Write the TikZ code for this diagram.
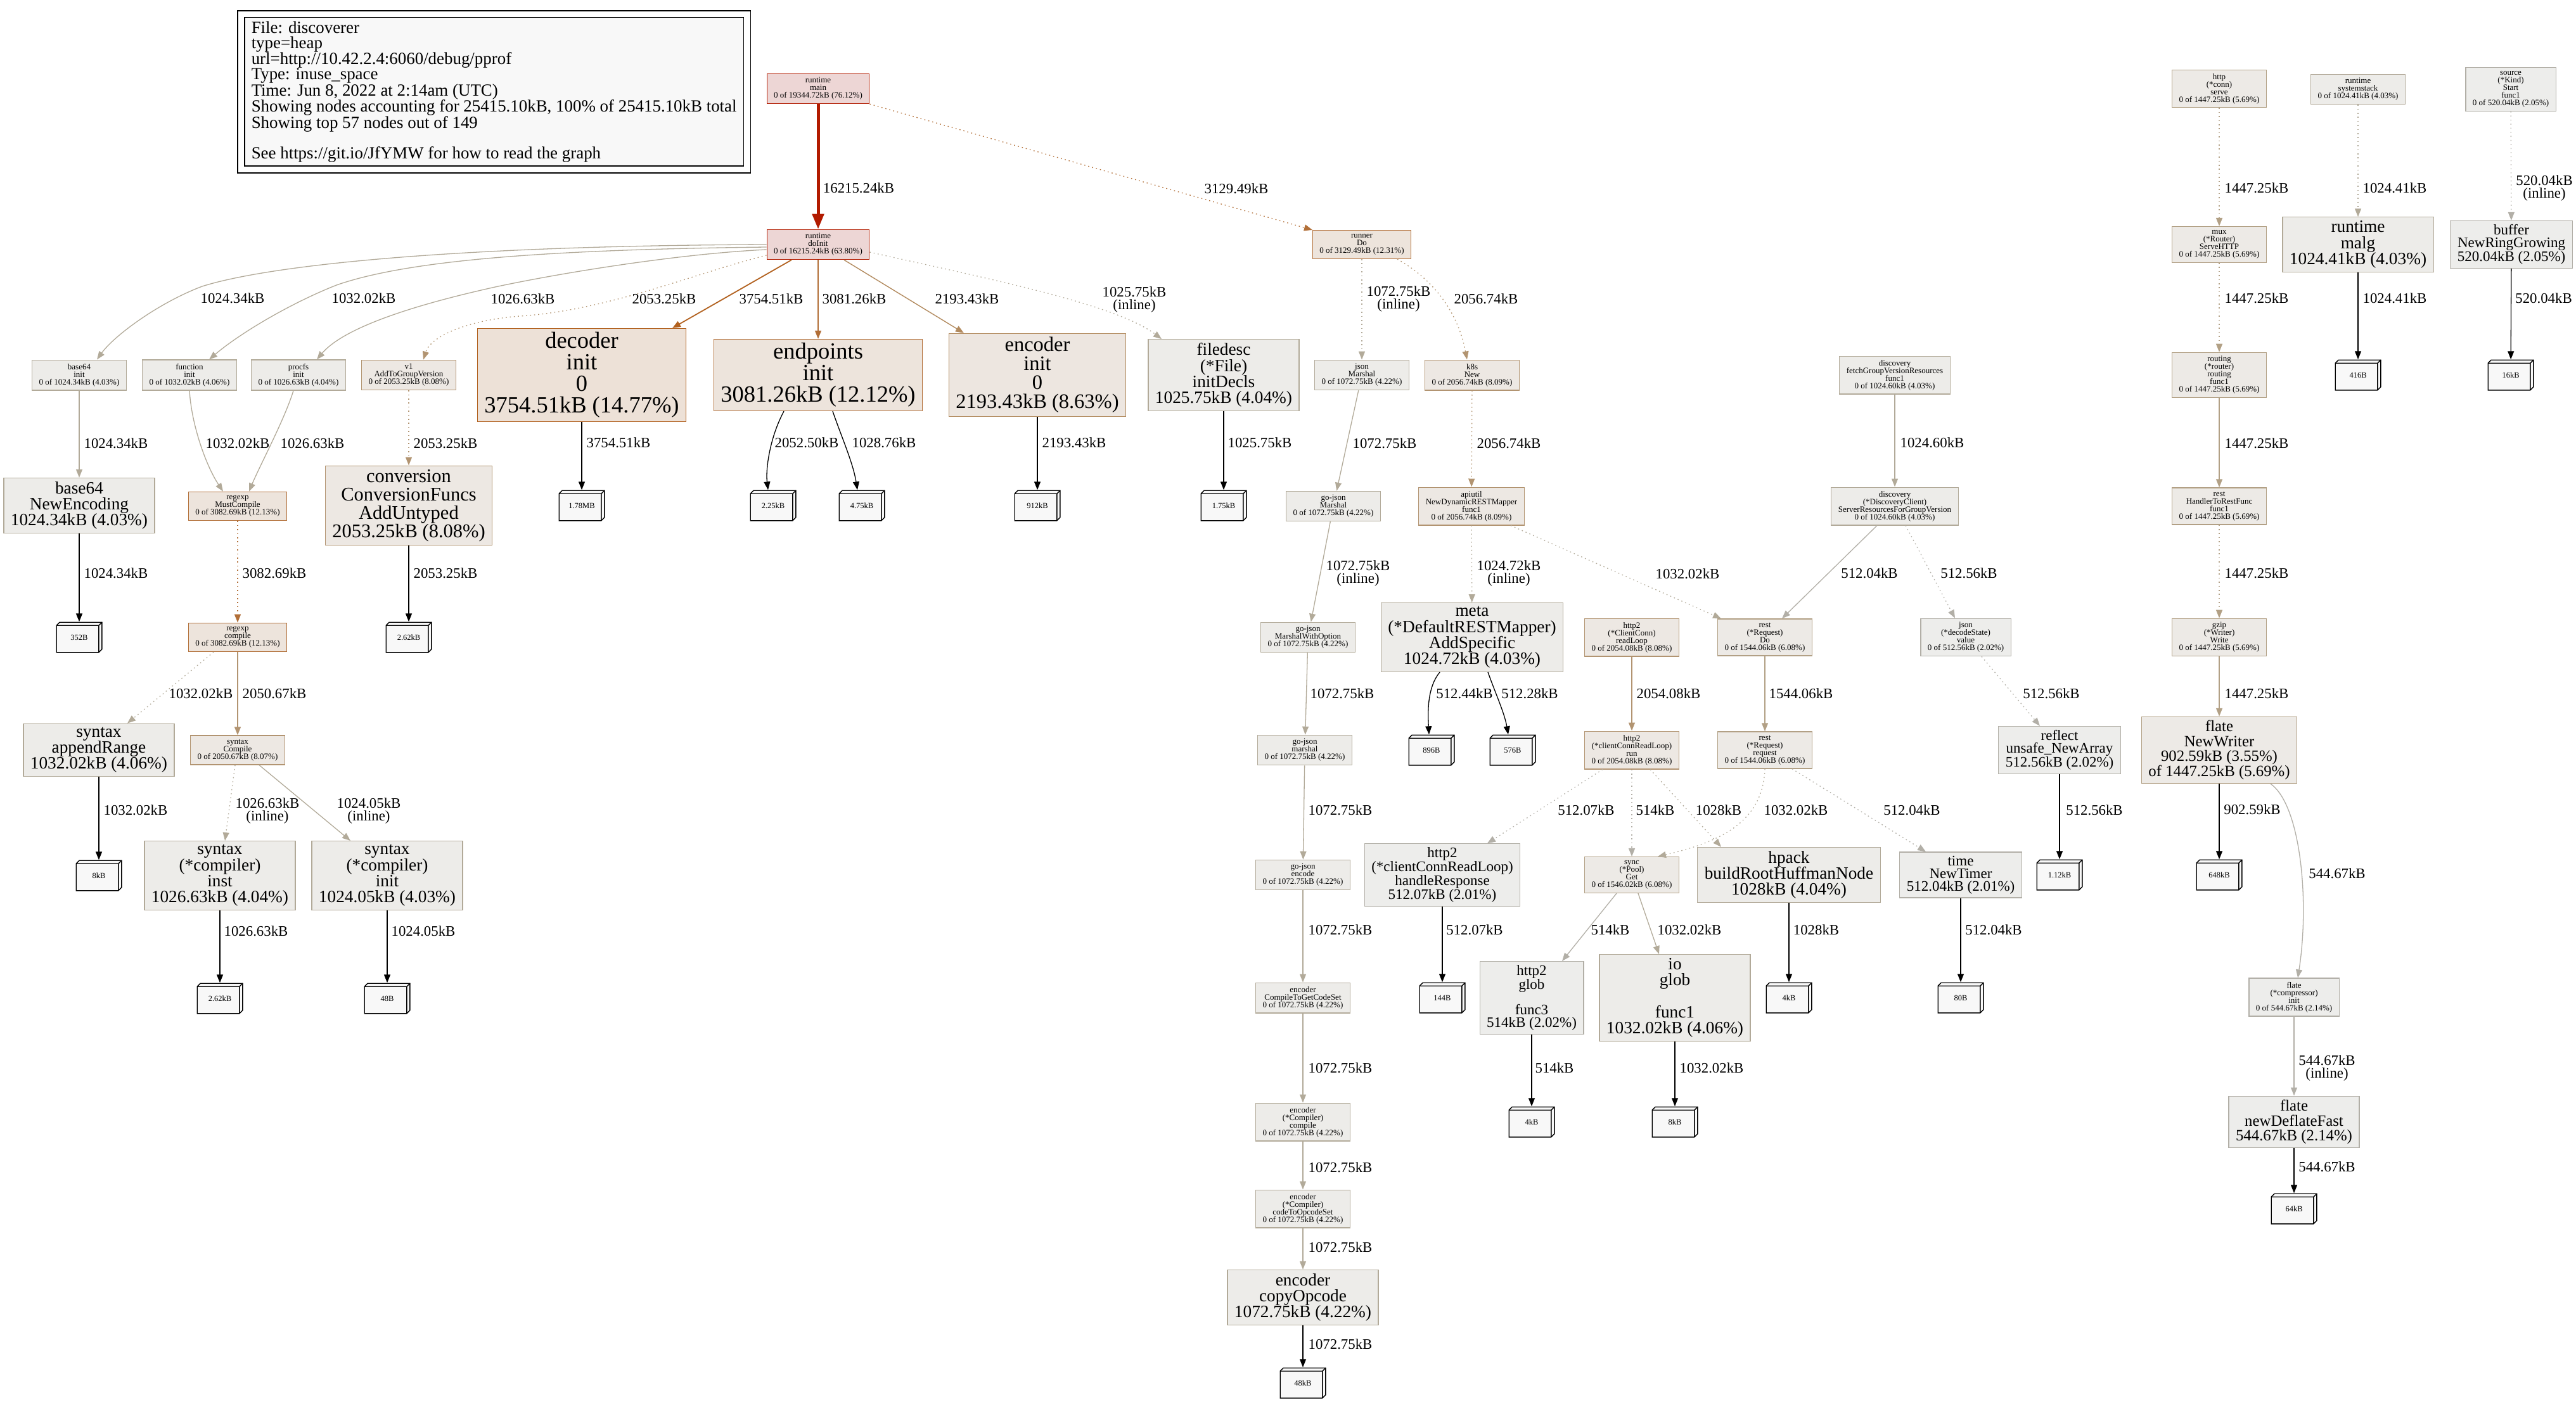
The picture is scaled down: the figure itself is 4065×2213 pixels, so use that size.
\documentclass[tikz,border=0pt]{standalone}
\usepackage{fontspec}
\setmainfont{Liberation Serif}
\usepackage{tikz}
\usetikzlibrary{arrows.meta}
\definecolor{cRedLine}{HTML}{B21B00}
\definecolor{cRedFill}{HTML}{EDD6D5}
\definecolor{cOrALine}{HTML}{B2611F}
\definecolor{cOrAFill}{HTML}{EDE1D7}
\definecolor{cOrBLine}{HTML}{B26F38}
\definecolor{cOrBFill}{HTML}{EDE4DC}
\definecolor{cOrCLine}{HTML}{B28A5E}
\definecolor{cOrCFill}{HTML}{EDE6E0}
\definecolor{cTanLine}{HTML}{B29471}
\definecolor{cTanFill}{HTML}{EDE8E3}
\definecolor{cTanBLine}{HTML}{B2A085}
\definecolor{cTanBFill}{HTML}{EDEAE6}
\definecolor{cGrayLine}{HTML}{B2AA99}
\definecolor{cGrayFill}{HTML}{EDECE9}
\definecolor{cLightLine}{HTML}{B2AFA7}
\definecolor{cLightFill}{HTML}{EDEDEB}
\definecolor{cMem}{HTML}{F8F8F8}
\tikzset{
  >={Triangle[length=13pt,width=10pt]},
  fnode/.style ={rectangle,draw,line width=1.2pt,align=center,
                 inner xsep=11pt,inner ysep=6pt,text=black},
  rnode/.style ={fnode,draw=cRedLine,fill=cRedFill},
  oanode/.style={fnode,draw=cOrALine,fill=cOrAFill},
  obnode/.style={fnode,draw=cOrBLine,fill=cOrBFill},
  ocnode/.style={fnode,draw=cOrCLine,fill=cOrCFill},
  tnode/.style ={fnode,draw=cTanLine,fill=cTanFill},
  tbnode/.style={fnode,draw=cTanBLine,fill=cTanBFill},
  gnode/.style ={fnode,draw=cGrayLine,fill=cGrayFill},
  lnode/.style ={fnode,draw=cLightLine,fill=cLightFill},
  fA/.style={font=\fontsize{36.5}{34}\selectfont},
  fB/.style={font=\fontsize{32.5}{30}\selectfont},
  fC/.style={font=\fontsize{30.5}{29}\selectfont},
  fD/.style={font=\fontsize{27.3}{25.2}\selectfont},
  fE/.style={font=\fontsize{24.8}{23.5}\selectfont},
  fF/.style={font=\fontsize{23}{20}\selectfont},
  fS/.style={font=\fontsize{13}{12}\selectfont},
  mem/.style={rectangle,minimum width=73pt,minimum height=49pt,inner sep=0pt,
              fill=white,font=\fontsize{12.5}{12}\selectfont,
    path picture={
      \draw[line width=1.4pt,fill=cMem]
        ([shift={(0.7pt,-5.7pt)}]path picture bounding box.north west)
        -- ([shift={(5.7pt,-0.7pt)}]path picture bounding box.north west)
        -- ([shift={(-0.7pt,-0.7pt)}]path picture bounding box.north east)
        -- ([shift={(-0.7pt,5.7pt)}]path picture bounding box.south east)
        -- ([shift={(-5.7pt,0.7pt)}]path picture bounding box.south east)
        -- ([shift={(0.7pt,0.7pt)}]path picture bounding box.south west) -- cycle;
      \draw[line width=1.4pt]
        ([shift={(0.7pt,-5.7pt)}]path picture bounding box.north west)
        -- ([shift={(-5.7pt,-5.7pt)}]path picture bounding box.north east)
        -- ([shift={(-5.7pt,0.7pt)}]path picture bounding box.south east)
        ([shift={(-5.7pt,-5.7pt)}]path picture bounding box.north east)
        -- ([shift={(-0.7pt,-0.7pt)}]path picture bounding box.north east);
    }},
  ed/.style  ={->,line width=1.3pt},
  edot/.style={ed,dash pattern=on 1.6pt off 4.8pt},
  emem/.style={ed,black},
  lbl/.style ={font=\fontsize{22.8}{20.5}\selectfont,align=center,inner sep=0pt,text=black},
  legendbox/.style={rectangle,draw=black,line width=1.5pt,fill=cMem,align=left,
                    inner xsep=11pt,inner ysep=6pt,font=\fontsize{26.9}{23.8}\selectfont},
}
\begin{document}
\begin{tikzpicture}[x=1pt,y=-1pt]
\path[use as bounding box,fill=white] (0,0) rectangle (4065,2213);

% legend
\node[legendbox,anchor=north west] (legend) at (385,27) {File: discoverer\\type=heap\\url=http://10.42.2.4:6060/debug/pprof\\Type: inuse\_space\\Time: Jun 8, 2022 at 2:14am (UTC)\\Showing nodes accounting for 25415.10kB, 100\% of 25415.10kB total\\Showing top 57 nodes out of 149\\\mbox{}\\See https://git.io/JfYMW for how to read the graph};
\draw[line width=1.5pt] ([shift={(-10pt,10pt)}]legend.north west) rectangle ([shift={(10pt,-10pt)}]legend.south east);

% roots
\node[rnode,fS] (main) at (1291,140) {runtime\\main\\0 of 19344.72kB (76.12\%)};
\node[tbnode,fS] (serve) at (3502,140) {http\\(*conn)\\serve\\0 of 1447.25kB (5.69\%)};
\node[gnode,fS] (sysstack) at (3721,141) {runtime\\systemstack\\0 of 1024.41kB (4.03\%)};
\node[lnode,fS] (kstart) at (3962,141) {source\\(*Kind)\\Start\\func1\\0 of 520.04kB (2.05\%)};

\node[rnode,fS] (dinit) at (1291,386) {runtime\\doInit\\0 of 16215.24kB (63.80\%)};
\node[obnode,fS] (runner) at (2149,386) {runner\\Do\\0 of 3129.49kB (12.31\%)};
\node[tbnode,fS] (mux) at (3502,386) {mux\\(*Router)\\ServeHTTP\\0 of 1447.25kB (5.69\%)};
\node[gnode,fD] (malg) at (3721,386) {runtime\\malg\\1024.41kB (4.03\%)};
\node[lnode,fF] (ring) at (3963,386) {buffer\\NewRingGrowing\\520.04kB (2.05\%)};

% init row
\node[gnode,fS] (b64init) at (125,592) {base64\\init\\0 of 1024.34kB (4.03\%)};
\node[gnode,fS] (fninit) at (299,592) {function\\init\\0 of 1032.02kB (4.06\%)};
\node[gnode,fS] (pfinit) at (471,592) {procfs\\init\\0 of 1026.63kB (4.04\%)};
\node[tnode,fS] (v1) at (645,592) {v1\\AddToGroupVersion\\0 of 2053.25kB (8.08\%)};
\node[oanode,fA] (decinit) at (918,592) {decoder\\init\\0\\3754.51kB (14.77\%)};
\node[obnode,fA] (epinit) at (1291,592) {endpoints\\init\\3081.26kB (12.12\%)};
\node[ocnode,fB] (encinit) at (1637,592) {encoder\\init\\0\\2193.43kB (8.63\%)};
\node[gnode,fD] (fdesc) at (1931,592) {filedesc\\(*File)\\initDecls\\1025.75kB (4.04\%)};
\node[gnode,fS] (jmarshal) at (2149,592) {json\\Marshal\\0 of 1072.75kB (4.22\%)};
\node[tnode,fS] (k8snew) at (2323,592) {k8s\\New\\0 of 2056.74kB (8.09\%)};
\node[gnode,fS] (fetchgvr) at (2990,592) {discovery\\fetchGroupVersionResources\\func1\\0 of 1024.60kB (4.03\%)};
\node[tbnode,fS] (routing) at (3502,592) {routing\\(*router)\\routing\\func1\\0 of 1447.25kB (5.69\%)};
\node[mem] (m416) at (3721,592) {416B};
\node[mem] (m16k) at (3962,592) {16kB};

\node[gnode,fD] (b64enc) at (125,798) {base64\\NewEncoding\\1024.34kB (4.03\%)};
\node[obnode,fS] (mustc) at (375,799) {regexp\\MustCompile\\0 of 3082.69kB (12.13\%)};
\node[tnode,fC] (conv) at (645,798) {conversion\\ConversionFuncs\\AddUntyped\\2053.25kB (8.08\%)};
\node[mem] (m178) at (918,798) {1.78MB};
\node[mem] (m225) at (1220,798) {2.25kB};
\node[mem] (m475) at (1360,798) {4.75kB};
\node[mem] (m912) at (1637,798) {912kB};
\node[mem] (m175) at (1931,798) {1.75kB};
\node[gnode,fS] (gjmarshal) at (2104,799) {go-json\\Marshal\\0 of 1072.75kB (4.22\%)};
\node[tnode,fS] (restmap) at (2322,799) {apiutil\\NewDynamicRESTMapper\\func1\\0 of 2056.74kB (8.09\%)};
\node[gnode,fS] (srvres) at (2990,799) {discovery\\(*DiscoveryClient)\\ServerResourcesForGroupVersion\\0 of 1024.60kB (4.03\%)};
\node[tbnode,fS] (h2rest) at (3502,799) {rest\\HandlerToRestFunc\\func1\\0 of 1447.25kB (5.69\%)};

\node[mem] (m352) at (125,1006) {352B};
\node[obnode,fS] (rcompile) at (375,1006) {regexp\\compile\\0 of 3082.69kB (12.13\%)};
\node[mem] (m262a) at (645,1006) {2.62kB};
\node[gnode,fS] (gjmwo) at (2064,1006) {go-json\\MarshalWithOption\\0 of 1072.75kB (4.22\%)};
\node[gnode,fD] (addspec) at (2323,1006) {meta\\(*DefaultRESTMapper)\\AddSpecific\\1024.72kB (4.03\%)};
\node[tnode,fS] (readloop) at (2575,1006) {http2\\(*ClientConn)\\readLoop\\0 of 2054.08kB (8.08\%)};
\node[tbnode,fS] (reqdo) at (2785,1006) {rest\\(*Request)\\Do\\0 of 1544.06kB (6.08\%)};
\node[lnode,fS] (decval) at (3102,1006) {json\\(*decodeState)\\value\\0 of 512.56kB (2.02\%)};
\node[tbnode,fS] (gzwrite) at (3502,1006) {gzip\\(*Writer)\\Write\\0 of 1447.25kB (5.69\%)};

\node[gnode,fD] (apprange) at (156,1184) {syntax\\appendRange\\1032.02kB (4.06\%)};
\node[tnode,fS] (scompile) at (375,1184) {syntax\\Compile\\0 of 2050.67kB (8.07\%)};
\node[gnode,fS] (gjm) at (2059,1184) {go-json\\marshal\\0 of 1072.75kB (4.22\%)};
\node[mem] (m896) at (2259,1184) {896B};
\node[mem] (m576) at (2387,1184) {576B};
\node[tnode,fS] (crlrun) at (2575,1184) {http2\\(*clientConnReadLoop)\\run\\0 of 2054.08kB (8.08\%)};
\node[tbnode,fS] (reqreq) at (2785,1184) {rest\\(*Request)\\request\\0 of 1544.06kB (6.08\%)};
\node[lnode,fF] (newarr) at (3250,1184) {reflect\\unsafe\_NewArray\\512.56kB (2.02\%)};
\node[tbnode,fE] (newwriter) at (3502,1184) {flate\\NewWriter\\902.59kB (3.55\%)\\of 1447.25kB (5.69\%)};

\node[mem] (m8a) at (156,1382) {8kB};
\node[gnode,fD] (cinst) at (347,1382) {syntax\\(*compiler)\\inst\\1026.63kB (4.04\%)};
\node[gnode,fD] (cinit) at (611,1382) {syntax\\(*compiler)\\init\\1024.05kB (4.03\%)};
\node[gnode,fS] (gjenc) at (2056,1381) {go-json\\encode\\0 of 1072.75kB (4.22\%)};
\node[lnode,fF] (hresp) at (2276,1381) {http2\\(*clientConnReadLoop)\\handleResponse\\512.07kB (2.01\%)};
\node[tbnode,fS] (poolget) at (2575,1381) {sync\\(*Pool)\\Get\\0 of 1546.02kB (6.08\%)};
\node[gnode,fD] (huff) at (2823,1381) {hpack\\buildRootHuffmanNode\\1028kB (4.04\%)};
\node[lnode,fF] (timer) at (3094,1381) {time\\NewTimer\\512.04kB (2.01\%)};
\node[mem] (m112) at (3250,1381) {1.12kB};
\node[mem] (m648) at (3502,1381) {648kB};

\node[mem] (m262b) at (347,1576) {2.62kB};
\node[mem] (m48b) at (611,1576) {48B};
\node[gnode,fS] (getcs) at (2056,1575) {encoder\\CompileToGetCodeSet\\0 of 1072.75kB (4.22\%)};
\node[mem] (m144) at (2276,1575) {144B};
\node[lnode,fF] (glob3) at (2417,1575) {http2\\glob\\\mbox{}\\func3\\514kB (2.02\%)};
\node[gnode,fD] (ioglob) at (2643,1575) {io\\glob\\\mbox{}\\func1\\1032.02kB (4.06\%)};
\node[mem] (m4a) at (2823,1575) {4kB};
\node[mem] (m80) at (3094,1575) {80B};
\node[lnode,fS] (compinit) at (3620,1574) {flate\\(*compressor)\\init\\0 of 544.67kB (2.14\%)};

\node[gnode,fS] (ccomp) at (2056,1771) {encoder\\(*Compiler)\\compile\\0 of 1072.75kB (4.22\%)};
\node[mem] (m4b) at (2417,1771) {4kB};
\node[mem] (m8b) at (2643,1771) {8kB};
\node[lnode,fE] (deffast) at (3620,1771) {flate\\newDeflateFast\\544.67kB (2.14\%)};
\node[gnode,fS] (opset) at (2056,1908) {encoder\\(*Compiler)\\codeToOpcodeSet\\0 of 1072.75kB (4.22\%)};
\node[mem] (m64) at (3620,1908) {64kB};
\node[gnode,fD] (copyop) at (2056,2048) {encoder\\copyOpcode\\1072.75kB (4.22\%)};
\node[mem] (m48k) at (2056,2183) {48kB};

% edges from the roots
\draw[ed,cRedLine,line width=5pt,-{Triangle[length=24pt,width=18pt]}] (main) -- (dinit) node[lbl] at (1355,297) {16215.24kB};
\draw[edot,cOrBLine] (main.south east) -- ([xshift=-78pt]runner.north) node[lbl] at (1951,298) {3129.49kB};
\draw[ed,cGrayLine] (dinit.west) .. controls (700,388) and (420,420) .. (319,452) .. controls (250,478) and (180,530) .. ([xshift=28pt]b64init.north) node[lbl] at (367,471) {1024.34kB};
\draw[ed,cGrayLine] ([yshift=-4pt]dinit.west) .. controls (850,394) and (640,412) .. (531,450) .. controls (460,478) and (380,525) .. ([xshift=31pt]fninit.north) node[lbl] at (574,471) {1032.02kB};
\draw[ed,cGrayLine] ([yshift=-8pt]dinit.west) .. controls (1080,400) and (900,428) .. (786,452) .. controls (640,484) and (540,520) .. ([xshift=29pt]pfinit.north) node[lbl] at (825,472) {1026.63kB};
\draw[edot,cTanLine] ([yshift=-17pt]dinit.west) .. controls (1100,430) and (960,490) .. (820,499) .. controls (740,505) and (680,530) .. ([xshift=23pt]v1.north) node[lbl] at (1048,472) {2053.25kB};
\draw[ed,cOrALine,line width=1.8pt] ([xshift=-42pt]dinit.south) -- ([xshift=143pt]decinit.north) node[lbl] at (1217,472) {3754.51kB};
\draw[ed,cOrBLine,line width=1.6pt] (dinit) -- (epinit) node[lbl] at (1348,472) {3081.26kB};
\draw[ed,cOrCLine,line width=1.4pt] ([xshift=41pt]dinit.south) -- ([xshift=-116pt]encinit.north) node[lbl] at (1526,472) {2193.43kB};
\draw[edot,cGrayLine] ([yshift=-12pt]dinit.east) .. controls (1560,440) and (1760,480) .. ([xshift=-98pt]fdesc.north) node[lbl] at (1790,473) {1025.75kB\\(inline)};
\draw[edot,cGrayLine] (runner) -- (jmarshal) node[lbl] at (2207,472) {1072.75kB\\(inline)};
\draw[edot,cTanLine] ([xshift=56pt]runner.south) .. controls (2260,440) and (2300,490) .. ([xshift=-8pt]k8snew.north) node[lbl] at (2345,472) {2056.74kB};
\draw[edot,cTanBLine] (serve) -- (mux) node[lbl] at (3561,297) {1447.25kB};
\draw[edot,cTanBLine] (mux) -- (routing) node[lbl] at (3561,471) {1447.25kB};
\draw[edot,cGrayLine] (sysstack) -- (malg) node[lbl] at (3779,297) {1024.41kB};
\draw[emem] (malg) -- (m416) node[lbl] at (3779,471) {1024.41kB};
\draw[edot,cLightLine] (kstart) -- (ring) node[lbl] at (4015,297) {520.04kB\\(inline)};
\draw[emem] (ring) -- (m16k) node[lbl] at (4014,471) {520.04kB};

% init row down
\draw[ed,cGrayLine] (b64init) -- (b64enc) node[lbl] at (183,700) {1024.34kB};
\draw[ed,cGrayLine] (fninit.south) .. controls (302,670) and (325,735) .. ([xshift=-23pt]mustc.north) node[lbl] at (375,700) {1032.02kB};
\draw[ed,cGrayLine] ([xshift=-8pt]pfinit.south) .. controls (450,660) and (410,735) .. ([xshift=18pt]mustc.north) node[lbl] at (493,700) {1026.63kB};
\draw[edot,cTanLine] (v1) -- (conv) node[lbl] at (703,700) {2053.25kB};
\draw[emem] (decinit) -- (m178) node[lbl] at (976,699) {3754.51kB};
\draw[emem] ([xshift=-54pt]epinit.south) .. controls (1215,690) and (1208,740) .. ([xshift=-8pt]m225.north) node[lbl] at (1273,699) {2052.50kB};
\draw[emem] ([xshift=23pt]epinit.south) .. controls (1328,690) and (1346,730) .. ([xshift=-7pt]m475.north) node[lbl] at (1395,699) {1028.76kB};
\draw[emem] (encinit) -- (m912) node[lbl] at (1695,699) {2193.43kB};
\draw[emem] (fdesc) -- (m175) node[lbl] at (1988,699) {1025.75kB};
\draw[ed,cGrayLine] (jmarshal) -- (gjmarshal) node[lbl] at (2185,700) {1072.75kB};
\draw[edot,cTanLine] (k8snew) -- (restmap) node[lbl] at (2381,700) {2056.74kB};
\draw[ed,cGrayLine] (fetchgvr) -- (srvres) node[lbl] at (3049,699) {1024.60kB};
\draw[ed,cTanBLine] (routing) -- (h2rest) node[lbl] at (3561,700) {1447.25kB};

\draw[emem] (b64enc) -- (m352) node[lbl] at (183,905) {1024.34kB};
\draw[edot,cOrBLine] (mustc) -- (rcompile) node[lbl] at (433,905) {3082.69kB};
\draw[emem] (conv) -- (m262a) node[lbl] at (703,905) {2053.25kB};
\draw[ed,cGrayLine] (gjmarshal) -- (gjmwo) node[lbl] at (2143,905) {1072.75kB\\(inline)};
\draw[edot,cGrayLine] (restmap) -- (addspec) node[lbl] at (2381,905) {1024.72kB\\(inline)};
\draw[edot,cGrayLine] ([xshift=62pt]restmap.south) -- ([xshift=-69pt]reqdo.north) node[lbl] at (2663,906) {1032.02kB};
\draw[ed,cLightLine] ([xshift=-28pt]srvres.south) -- ([xshift=27pt]reqdo.north) node[lbl] at (2950,905) {512.04kB};
\draw[edot,cLightLine] ([xshift=17pt]srvres.south) -- ([xshift=-17pt]decval.north) node[lbl] at (3107,905) {512.56kB};
\draw[edot,cTanBLine] (h2rest) -- (gzwrite) node[lbl] at (3561,905) {1447.25kB};

\draw[edot,cGrayLine] ([xshift=-38pt]rcompile.south) -- ([xshift=45pt]apprange.north) node[lbl] at (317,1095) {1032.02kB};
\draw[ed,cTanLine] (rcompile) -- (scompile) node[lbl] at (433,1095) {2050.67kB};
\draw[ed,cGrayLine] (gjmwo) -- (gjm) node[lbl] at (2118,1095) {1072.75kB};
\draw[emem] ([xshift=-51pt]addspec.south) .. controls (2252,1085) and (2253,1125) .. ([xshift=-4pt]m896.north) node[lbl] at (2311,1095) {512.44kB};
\draw[emem] ([xshift=25pt]addspec.south) .. controls (2360,1095) and (2374,1125) .. ([xshift=-7pt]m576.north) node[lbl] at (2414,1095) {512.28kB};
\draw[ed,cTanLine] (readloop) -- (crlrun) node[lbl] at (2633,1095) {2054.08kB};
\draw[ed,cTanBLine] (reqdo) -- (reqreq) node[lbl] at (2842,1095) {1544.06kB};
\draw[edot,cLightLine] ([xshift=25pt]decval.south) -- ([xshift=-31pt]newarr.north) node[lbl] at (3237,1095) {512.56kB};
\draw[ed,cTanBLine] (gzwrite) -- (newwriter) node[lbl] at (3561,1095) {1447.25kB};

\draw[emem] (apprange) -- (m8a) node[lbl] at (214,1279) {1032.02kB};
\draw[edot,cGrayLine] ([xshift=-4pt]scompile.south) -- ([xshift=8pt]cinst.north) node[lbl] at (422,1280) {1026.63kB\\(inline)};
\draw[ed,cGrayLine] ([xshift=34pt]scompile.south) -- ([xshift=-58pt]cinit.north) node[lbl] at (582,1280) {1024.05kB\\(inline)};
\draw[ed,cGrayLine] (gjm) -- (gjenc) node[lbl] at (2115,1279) {1072.75kB};
\draw[edot,cLightLine] ([xshift=-46pt]crlrun.south) -- ([xshift=71pt]hresp.north) node[lbl] at (2503,1279) {512.07kB};
\draw[edot,cLightLine] (crlrun) -- (poolget) node[lbl] at (2612,1279) {514kB};
\draw[edot,cGrayLine] ([xshift=29pt]crlrun.south) -- ([xshift=-107pt]huff.north) node[lbl] at (2712,1279) {1028kB};
\draw[edot,cGrayLine] (reqreq.south) .. controls (2782,1300) and (2710,1330) .. ([xshift=41pt]poolget.north) node[lbl] at (2834,1279) {1032.02kB};
\draw[edot,cLightLine] ([xshift=43pt]reqreq.south) -- ([xshift=-55pt]timer.north) node[lbl] at (3017,1279) {512.04kB};
\draw[emem] (newarr) -- (m112) node[lbl] at (3305,1279) {512.56kB};
\draw[emem] (newwriter) -- (m648) node[lbl] at (3554,1278) {902.59kB};
\draw[ed,cLightLine] ([xshift=81pt]newwriter.south) .. controls (3630,1270) and (3645,1420) .. ([xshift=6pt]compinit.north) node[lbl] at (3688,1379) {544.67kB};

\draw[emem] (cinst) -- (m262b) node[lbl] at (404,1470) {1026.63kB};
\draw[emem] (cinit) -- (m48b) node[lbl] at (668,1470) {1024.05kB};
\draw[ed,cGrayLine] (gjenc) -- (getcs) node[lbl] at (2115,1468) {1072.75kB};
\draw[emem] (hresp) -- (m144) node[lbl] at (2327,1468) {512.07kB};
\draw[ed,cLightLine] ([xshift=-24pt]poolget.south) -- ([xshift=48pt]glob3.north) node[lbl] at (2541,1468) {514kB};
\draw[ed,cGrayLine] ([xshift=10pt]poolget.south) -- ([xshift=-25pt]ioglob.north) node[lbl] at (2666,1468) {1032.02kB};
\draw[emem] (huff) -- (m4a) node[lbl] at (2866,1468) {1028kB};
\draw[emem] (timer) -- (m80) node[lbl] at (3146,1468) {512.04kB};

\draw[ed,cGrayLine] (getcs) -- (ccomp) node[lbl] at (2115,1686) {1072.75kB};
\draw[emem] (glob3) -- (m4b) node[lbl] at (2453,1686) {514kB};
\draw[emem] (ioglob) -- (m8b) node[lbl] at (2701,1686) {1032.02kB};
\draw[ed,cLightLine] (compinit) -- (deffast) node[lbl] at (3672,1686) {544.67kB\\(inline)};
\draw[ed,cGrayLine] (ccomp) -- (opset) node[lbl] at (2115,1843) {1072.75kB};
\draw[emem] (deffast) -- (m64) node[lbl] at (3672,1842) {544.67kB};
\draw[ed,cGrayLine] (opset) -- (copyop) node[lbl] at (2115,1969) {1072.75kB};
\draw[emem] (copyop) -- (m48k) node[lbl] at (2115,2122) {1072.75kB};
\end{tikzpicture}
\end{document}
